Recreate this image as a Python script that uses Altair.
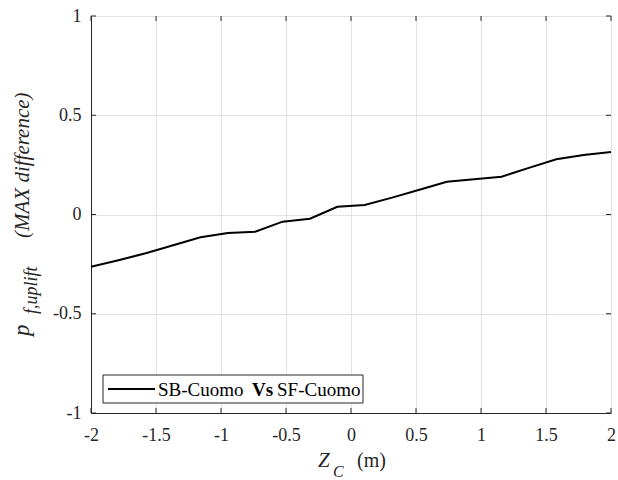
import altair as alt
import pandas as pd

# data
zc = [-2.0, -1.789, -1.579, -1.368, -1.158, -0.947, -0.737, -0.526, -0.316, -0.105,
      0.105, 0.316, 0.526, 0.737, 0.947, 1.158, 1.368, 1.579, 1.789, 2.0]
pf = [-0.263, -0.23, -0.195, -0.155, -0.115, -0.093, -0.087, -0.036, -0.021, 0.039,
      0.048, 0.085, 0.125, 0.165, 0.177, 0.19, 0.235, 0.278, 0.30, 0.315]
x_ticks = [-2, -1.5, -1, -0.5, 0, 0.5, 1, 1.5, 2]
y_ticks = [-1, -0.5, 0, 0.5, 1]
legend_parts = ["SB-Cuomo", "Vs", "SF-Cuomo"]

W, H = 520, 397
FONT = "Liberation Serif"
INK = "#262626"
LBL = "datum.value < 0 ? '-' + format(-datum.value, '~g') : format(datum.value, '~g')"

df = pd.DataFrame({"zc": zc, "pf": pf})
xs = alt.Scale(domain=[-2, 2], nice=False, zero=False)
ys = alt.Scale(domain=[-1, 1], nice=False, zero=False)

base = alt.Chart(df)

line = base.mark_line(color="black", strokeWidth=2).encode(
    x=alt.X("zc:Q", scale=xs, axis=alt.Axis(values=x_ticks, title=None, grid=True,
            labelFont=FONT, labelFontSize=18, labelColor=INK, labelPadding=13,
            tickSize=0, domainColor=INK, gridColor="#e3e3e3", labelFlush=False,
            labelExpr=LBL)),
    y=alt.Y("pf:Q", scale=ys, axis=alt.Axis(values=y_ticks, title=None, grid=True,
            labelFont=FONT, labelFontSize=18, labelColor=INK, labelPadding=10,
            tickSize=0, domainColor=INK, gridColor="#e3e3e3", labelExpr=LBL)),
)

xt = alt.Chart(pd.DataFrame({"t": x_ticks}))
yt = alt.Chart(pd.DataFrame({"t": y_ticks}))
tick_b = xt.mark_rule(color=INK, strokeWidth=1).encode(x=alt.X("t:Q", scale=xs), y=alt.value(H), y2=alt.value(H - 5))
tick_t = xt.mark_rule(color=INK, strokeWidth=1).encode(x=alt.X("t:Q", scale=xs), y=alt.value(0), y2=alt.value(5))
tick_l = yt.mark_rule(color=INK, strokeWidth=1).encode(y=alt.Y("t:Q", scale=ys), x=alt.value(0), x2=alt.value(5))
tick_r = yt.mark_rule(color=INK, strokeWidth=1).encode(y=alt.Y("t:Q", scale=ys), x=alt.value(W), x2=alt.value(W - 5))

one = alt.Chart(pd.DataFrame({"a": [0]}))

# legend
leg_box = one.mark_rect(fill="white", stroke=INK, strokeWidth=1).encode(
    x=alt.value(12), x2=alt.value(272), y=alt.value(359), y2=alt.value(387))
leg_line = one.mark_rule(color="black", strokeWidth=2).encode(
    x=alt.value(17), x2=alt.value(64), y=alt.value(373))
leg_t1 = one.mark_text(text=legend_parts[0], font=FONT, fontSize=19, color="black", align="left", baseline="alphabetic").encode(
    x=alt.value(67), y=alt.value(380))
leg_t2 = one.mark_text(text=legend_parts[1], font=FONT, fontSize=19, fontWeight="bold", color="black", align="left", baseline="alphabetic").encode(
    x=alt.value(161), y=alt.value(380))
leg_t3 = one.mark_text(text=legend_parts[2], font=FONT, fontSize=19, color="black", align="left", baseline="alphabetic").encode(
    x=alt.value(186), y=alt.value(380))

# y title
yt1 = one.mark_text(text="p", font=FONT, fontSize=23, fontStyle="italic", color=INK, angle=270, align="left", baseline="alphabetic").encode(
    x=alt.value(-62), y=alt.value(320))
yt2 = one.mark_text(text="f,uplift", font=FONT, fontSize=18, fontStyle="italic", color=INK, angle=270, align="left", baseline="alphabetic").encode(
    x=alt.value(-54), y=alt.value(298))
yt3 = one.mark_text(text="(MAX difference)", font=FONT, fontSize=21, fontStyle="italic", color=INK, angle=270, align="left", baseline="alphabetic").encode(
    x=alt.value(-62), y=alt.value(222))

# x title
xt1 = one.mark_text(text="Z", font=FONT, fontSize=21, fontStyle="italic", color=INK, align="left", baseline="alphabetic").encode(
    x=alt.value(227), y=alt.value(451))
xt2 = one.mark_text(text="C", font=FONT, fontSize=16, fontStyle="italic", color=INK, align="left", baseline="alphabetic").encode(
    x=alt.value(242), y=alt.value(461))
xt3 = one.mark_text(text="(m)", font=FONT, fontSize=20, color=INK, align="left", baseline="alphabetic").encode(
    x=alt.value(266), y=alt.value(451))

chart = alt.layer(
    line, tick_b, tick_t, tick_l, tick_r,
    leg_box, leg_line, leg_t1, leg_t2, leg_t3,
    yt1, yt2, yt3, xt1, xt2, xt3,
).properties(
    width=W, height=H,
    autosize=alt.AutoSizeParams(type="none"),
    padding={"left": 91, "top": 16, "right": 7, "bottom": 67},
).configure_view(stroke=INK, strokeWidth=1).configure(background="white")

chart.save("out.html", embed_options={"renderer": "svg", "actions": False})
